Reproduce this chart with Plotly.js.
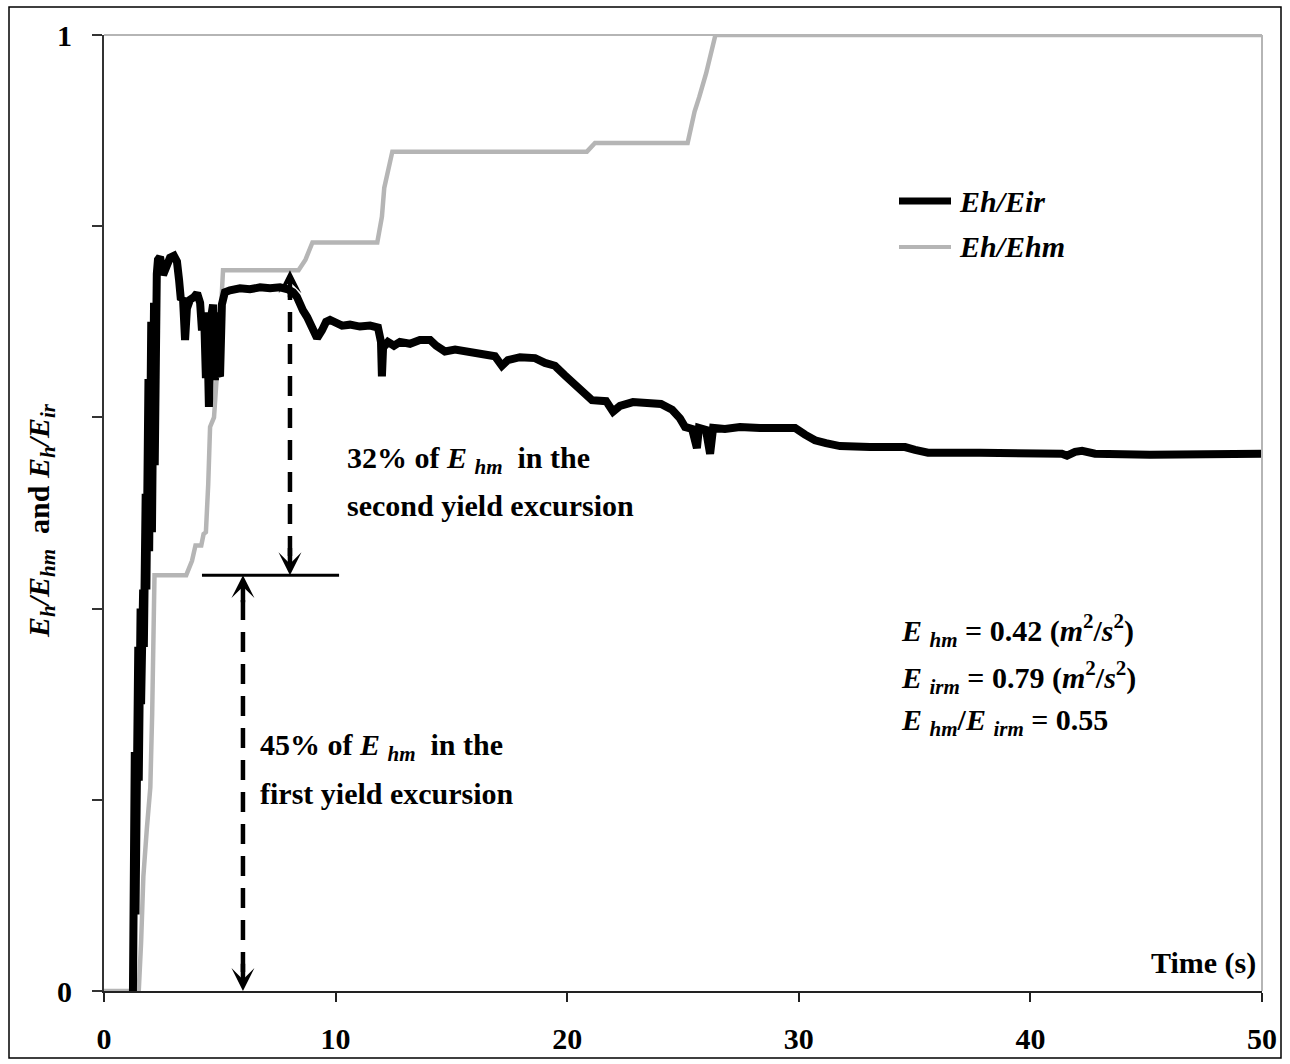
<!DOCTYPE html>
<html>
<head>
<meta charset="utf-8">
<script src="https://cdn.plot.ly/plotly-3.0.1.min.js"></script>
<style>
  html, body { margin: 0; padding: 0; background: #ffffff; }
  #chart { width: 1290px; height: 1064px; }
</style>
</head>
<body>
<div id="chart"></div>
<script>
// Eh/Eir : hysteretic energy over input energy, time in seconds
const timeEir = [
  1.25, 1.30, 1.33, 1.36, 1.38, 1.42, 1.45, 1.48, 1.50, 1.53, 1.56, 1.58, 1.60, 1.63,
  1.66, 1.69, 1.72, 1.75, 1.77, 1.80, 1.83, 1.86, 1.89, 1.92, 1.95, 1.98, 2.01, 2.04,
  2.07, 2.10, 2.13, 2.16, 2.19, 2.22, 2.25, 2.28, 2.33, 2.42,
  2.55, 2.68, 2.85, 3.02, 3.15, 3.24, 3.32, 3.41, 3.50, 3.58, 3.71, 3.89, 4.02, 4.15,
  4.23, 4.32, 4.40, 4.45, 4.53, 4.62, 4.71, 4.79, 4.84, 4.92, 5.01, 5.09, 5.22, 5.44,
  5.87, 6.30, 6.74, 7.17, 7.60, 7.94, 8.16, 8.33, 8.46, 8.59, 8.77, 8.98, 9.20, 9.41,
  9.59, 9.76, 10.02, 10.28, 10.62, 11.05, 11.49, 11.83, 11.96, 12.00, 12.05, 12.26, 12.52, 12.78,
  13.21, 13.64, 14.08, 14.34, 14.72, 15.16, 15.59, 16.23, 16.88, 17.18, 17.44, 17.96, 18.61, 19.04,
  19.47, 19.90, 20.34, 20.68, 21.07, 21.68, 21.98, 22.28, 22.84, 24.05, 24.53, 24.87, 25.09, 25.39,
  25.60, 25.69, 25.99, 26.17, 26.30, 26.81, 27.46, 28.32, 29.19, 29.84, 30.27, 30.70, 31.17, 31.78,
  33.07, 34.59, 35.02, 35.58, 37.82, 40.41, 41.36, 41.58, 41.93, 42.23, 42.79, 45.16, 47.32, 50.00
];
const ratioEir = [
  0.00, 0.12, 0.25, 0.08, 0.22, 0.33, 0.12, 0.36, 0.22, 0.40, 0.26, 0.40, 0.30, 0.41,
  0.33, 0.42, 0.36, 0.47, 0.40, 0.52, 0.42, 0.58, 0.45, 0.64, 0.46, 0.69, 0.47, 0.70,
  0.48, 0.70, 0.50, 0.72, 0.55, 0.73, 0.60, 0.75, 0.765, 0.768,
  0.749, 0.759, 0.767, 0.769, 0.763, 0.744, 0.723, 0.725, 0.681, 0.714, 0.723, 0.726, 0.730, 0.720,
  0.691, 0.710, 0.641, 0.704, 0.611, 0.704, 0.718, 0.639, 0.710, 0.647, 0.643, 0.718, 0.731, 0.733,
  0.735, 0.734, 0.736, 0.735, 0.736, 0.734, 0.731, 0.726, 0.718, 0.712, 0.705, 0.695, 0.683, 0.691,
  0.700, 0.702, 0.700, 0.696, 0.697, 0.695, 0.696, 0.694, 0.679, 0.643, 0.673, 0.679, 0.675, 0.679,
  0.677, 0.681, 0.681, 0.675, 0.669, 0.671, 0.669, 0.667, 0.664, 0.654, 0.660, 0.663, 0.662, 0.657,
  0.654, 0.644, 0.635, 0.627, 0.618, 0.617, 0.606, 0.612, 0.616, 0.614, 0.608, 0.599, 0.590, 0.588,
  0.568, 0.589, 0.587, 0.562, 0.589, 0.588, 0.590, 0.589, 0.590, 0.589, 0.582, 0.576, 0.573, 0.570,
  0.569, 0.569, 0.566, 0.563, 0.563, 0.563, 0.562, 0.560, 0.564, 0.565, 0.562, 0.561, 0.561, 0.562
];

// Eh/Ehm : hysteretic energy over its final value
const timeEhm = [
  0.00, 1.50, 1.60, 1.70, 1.85, 2.00, 2.08, 2.12, 2.15, 2.18, 3.55, 3.80, 3.95, 4.20,
  4.30, 4.40, 4.50, 4.58, 4.75, 4.88, 5.00, 5.14, 8.40, 8.70, 9.00, 11.80, 12.00, 12.10,
  12.30, 12.45, 20.85, 21.20, 25.20, 25.50, 25.70, 26.00, 26.40, 50.00
];
const ratioEhm = [
  0.000, 0.000, 0.050, 0.120, 0.170, 0.213, 0.290, 0.330, 0.380, 0.435, 0.435, 0.450, 0.466, 0.466,
  0.478, 0.480, 0.530, 0.590, 0.600, 0.642, 0.690, 0.754, 0.754, 0.765, 0.783, 0.783, 0.810, 0.840,
  0.860, 0.878, 0.878, 0.887, 0.887, 0.920, 0.935, 0.960, 1.000, 1.000
];

const seriesNames = ['Eh/Eir', 'Eh/Ehm'];
const xTicks = [0, 10, 20, 30, 40, 50];
const yLabelTicks = [0, 1];
const yMinorTicks = [0.2, 0.4, 0.6, 0.8];

// yield excursion markers
const firstExcursionTime = 6.0;
const secondExcursionTime = 8.03;
const firstExcursionLevel = 0.435;
const secondExcursionLevel = 0.754;
const markerLineStart = 4.23;
const markerLineEnd = 10.15;

// text blocks
const firstExcursionText = ['45% of <i>E</i> <sub><i>hm</i></sub>  in the', 'first yield excursion'];
const secondExcursionText = ['32% of <i>E</i> <sub><i>hm</i></sub>  in the', 'second yield excursion'];
const energyText = [
  '<i>E</i> <sub><i>hm</i></sub> = 0.42 (<i>m</i><sup>2</sup>/<i>s</i><sup>2</sup>)',
  '<i>E</i> <sub><i>irm</i></sub> = 0.79 (<i>m</i><sup>2</sup>/<i>s</i><sup>2</sup>)',
  '<i>E</i> <sub><i>hm</i></sub>/<i>E</i> <sub><i>irm</i></sub> = 0.55'
];

// ---- layout geometry (pixels of the 1290 x 1064 page) ----
const W = 1290, H = 1064;
const L = 104, R = 1262, T = 35, B = 991;
const px = p => (p - L) / (R - L);
const py = p => (B - p) / (B - T);

const FONT = '"Liberation Serif", "Times New Roman", serif';
const BLACK = '#000000';
const GREY = '#b5b5b5';

const traces = [
  {
    x: timeEhm, y: ratioEhm, name: seriesNames[1], type: 'scatter', mode: 'lines',
    line: { color: GREY, width: 4.5 }, hoverinfo: 'skip'
  },
  {
    x: timeEir, y: ratioEir, name: seriesNames[0], type: 'scatter', mode: 'lines',
    line: { color: BLACK, width: 8, shape: 'linear' }, hoverinfo: 'skip'
  }
];

const shapes = [
  // frame round the whole figure
  { type: 'rect', xref: 'paper', yref: 'paper', x0: px(9), x1: px(1281), y0: py(1058), y1: py(7),
    line: { color: BLACK, width: 1.5 } },
  // plot area border, top and right
  { type: 'line', xref: 'paper', yref: 'paper', x0: 0, x1: 1, y0: 1, y1: 1, line: { color: GREY, width: 2 } },
  { type: 'line', xref: 'paper', yref: 'paper', x0: 1, x1: 1, y0: 0, y1: 1, line: { color: GREY, width: 2 } },
  // horizontal divider between the two excursions
  { type: 'line', xref: 'x', yref: 'y', x0: markerLineStart, x1: markerLineEnd,
    y0: firstExcursionLevel, y1: firstExcursionLevel, line: { color: BLACK, width: 3 } },
  // dashed shafts
  { type: 'line', xref: 'x', yref: 'y', x0: firstExcursionTime, x1: firstExcursionTime,
    y0: 0.02, y1: firstExcursionLevel - 0.02, line: { color: BLACK, width: 4.5, dash: '20px,12px' } },
  { type: 'line', xref: 'x', yref: 'y', x0: secondExcursionTime, x1: secondExcursionTime,
    y0: firstExcursionLevel + 0.02, y1: secondExcursionLevel - 0.02, line: { color: BLACK, width: 4.5, dash: '20px,12px' } },
  // legend samples
  { type: 'line', xref: 'paper', yref: 'paper', x0: px(899), x1: px(951), y0: py(201), y1: py(201),
    line: { color: BLACK, width: 7 } },
  { type: 'line', xref: 'paper', yref: 'paper', x0: px(899), x1: px(951), y0: py(247), y1: py(247),
    line: { color: GREY, width: 4 } }
];

function arrowHead(x, tipY, tailY) {
  return { x: x, y: tipY, ax: x, ay: tailY, xref: 'x', yref: 'y', axref: 'x', ayref: 'y',
    text: '', showarrow: true, arrowhead: 3, arrowsize: 0.85, arrowwidth: 4.5, arrowcolor: BLACK };
}

function label(text, xPix, yPix, size, anchor) {
  return { text: text, xref: 'paper', yref: 'paper', x: px(xPix), y: py(yPix),
    xanchor: anchor || 'left', yanchor: 'middle', showarrow: false,
    font: { family: FONT, size: size, color: BLACK, weight: 'bold' } };
}

const annotations = [
  arrowHead(firstExcursionTime, 0, 0.03),
  arrowHead(firstExcursionTime, firstExcursionLevel, firstExcursionLevel - 0.03),
  arrowHead(secondExcursionTime, firstExcursionLevel, firstExcursionLevel + 0.03),
  arrowHead(secondExcursionTime, secondExcursionLevel, secondExcursionLevel - 0.03),

  label(secondExcursionText[0], 345, 460, 30),
  label(secondExcursionText[1], 345, 506, 30),
  label(firstExcursionText[0], 258, 747, 30),
  label(firstExcursionText[1], 258, 793, 30),

  label(energyText[0], 899, 630, 30),
  label(energyText[1], 899, 677, 30),
  label(energyText[2], 899, 722, 30),

  label('<i>' + seriesNames[0] + '</i>', 957, 201, 30),
  label('<i>' + seriesNames[1] + '</i>', 957, 247, 30),

  label('Time (s)', 1258, 963, 30, 'right'),

  Object.assign(label('<i>E<sub>h</sub>/E<sub>hm</sub></i>  and <i>E<sub>h</sub>/E<sub>ir</sub></i>', 41, 521, 30, 'center'),
    { textangle: -90 })
];

const layout = {
  width: W, height: H,
  margin: { l: L, r: W - R, t: T, b: H - B, pad: 0 },
  paper_bgcolor: '#ffffff', plot_bgcolor: '#ffffff',
  showlegend: false,
  font: { family: FONT, color: BLACK },
  xaxis: {
    range: [0, 50], tickvals: xTicks, ticktext: xTicks.map(String),
    ticks: 'outside', ticklen: 9, tickwidth: 2, tickcolor: '#222',
    showline: true, linecolor: '#222', linewidth: 2, layer: 'below traces',
    showgrid: false, zeroline: false,
    tickfont: { family: FONT, size: 30, color: BLACK, weight: 'bold' },
    ticklabelstandoff: 11
  },
  xaxis2: {
    overlaying: 'x', anchor: 'y', side: 'bottom', range: [0, 50], tickvals: xTicks,
    ticks: 'inside', ticklen: 9, tickwidth: 2, tickcolor: '#222',
    showticklabels: false, showline: false, showgrid: false, zeroline: false
  },
  yaxis: {
    range: [0, 1], tickvals: yLabelTicks, ticktext: yLabelTicks.map(String),
    ticks: 'outside', ticklen: 10, tickwidth: 2, tickcolor: '#333',
    minor: { tickvals: yMinorTicks, ticks: 'outside', ticklen: 10, tickwidth: 2, tickcolor: '#333', showgrid: false },
    showline: true, linecolor: '#333', linewidth: 2, layer: 'below traces',
    showgrid: false, zeroline: false,
    tickfont: { family: FONT, size: 30, color: BLACK, weight: 'bold' },
    ticklabelstandoff: 14
  },
  shapes: shapes,
  annotations: annotations
};

Plotly.newPlot('chart', traces, layout, { displayModeBar: false, staticPlot: true });
</script>
</body>
</html>
